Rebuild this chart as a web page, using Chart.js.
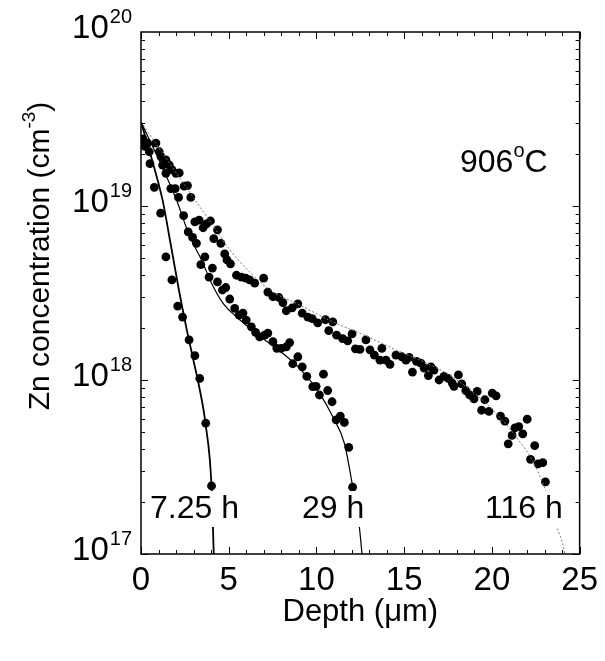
<!DOCTYPE html>
<html>
<head>
<meta charset="utf-8">
<title>Zn diffusion profiles 906°C</title>
<script src="https://cdn.jsdelivr.net/npm/chart.js@4.4.0/dist/chart.umd.min.js"></script>
<style>
  html, body { margin: 0; padding: 0; background: #fff; }
  #wrap { width: 605px; height: 661px; }
</style>
</head>
<body>
<div id="wrap"><canvas id="profileChart" width="605" height="661"></canvas></div>
<script>
// Measured points, 7.25 h
const depth725 = [0.06, 0.23, 0.51, 0.76, 1.12, 1.42, 1.76, 2.09, 2.37, 2.74, 3.07, 3.35, 3.69, 4.02];
const conc725 = [2.35e19, 2.2e19, 1.75e19, 1.28e19, 9.1e18, 5.1e18, 3.76e18, 2.66e18, 2.3e18, 1.7e18, 1.38e18, 1.02e18, 5.65e17, 2.46e17];

// Measured points, 29 h
const depth29 = [0.1, 0.38, 0.47, 1.14, 1.42, 1.70, 1.95, 2.14, 2.43, 2.69, 2.94, 3.16, 3.41, 3.64, 3.88, 4.07, 4.36,
  4.64, 4.83, 5.06, 5.34, 5.59, 5.81, 6.00, 6.29, 6.53, 6.76, 7.05, 7.23, 7.52, 7.74, 7.99, 8.28,
  8.47, 8.65, 8.94, 9.19, 9.45, 9.79, 9.98, 10.17, 10.40, 10.64, 10.89, 11.12, 11.36, 11.59, 11.84, 12.06];
const conc29 = [2.4e19, 2.3e19, 2.05e19, 1.92e19, 1.54e19, 1.26e19, 1.26e19, 1.12e19, 8.8e18, 7.1e18, 6.6e18, 6.1e18, 4.6e18, 5.1e18, 3.9e18, 4.4e18, 3.66e18,
  3.29e18, 3.4e18, 2.92e18, 2.58e18, 2.36e18, 2.42e18, 2.21e18, 2.02e18, 1.88e18, 1.77e18, 1.81e18, 1.86e18, 1.66e18, 1.52e18, 1.52e18, 1.55e18,
  1.64e18, 1.24e18, 1.36e18, 1.19e18, 1.05e18, 9.15e17, 9.2e17, 8.2e17, 1.08e18, 8.7e17, 7.5e17, 5.9e17, 6.2e17, 5.7e17, 4.1e17, 2.42e17];

// Measured points, 116 h
const depth116 = [0.11, 0.25, 0.85, 1.04, 1.23, 1.42, 1.61, 1.76, 1.99, 2.18,
  2.46, 2.65, 2.84, 3.07, 3.31, 3.54, 3.73, 3.96, 4.15, 4.36,
  4.55, 4.77, 4.90, 5.10, 5.44, 5.72, 5.97, 6.19, 6.48, 6.99,
  7.23, 7.52, 7.86, 8.09, 8.28, 8.62, 8.94, 9.19, 9.51, 9.76,
  10.07, 10.51, 10.70, 10.93, 11.15, 11.49, 11.78, 12.03, 12.22, 12.48,
  12.82, 13.05, 13.30, 13.62, 13.73, 13.96, 14.19, 14.53, 14.87, 15.10,
  15.28, 15.47, 15.70, 15.95, 16.14, 16.38, 16.52, 16.70, 16.99, 17.27,
  17.52, 17.74, 17.84, 18.09, 18.28, 18.51, 18.73, 18.98, 19.16, 19.41,
  19.60, 19.83, 20.02, 20.24, 20.49, 20.74, 20.93, 21.15, 21.31, 21.53,
  21.76, 22.01, 22.20, 22.44, 22.63, 22.90, 23.05];
const conc116 = [2.43e19, 2.25e19, 2.3e19, 2.05e19, 1.72e19, 1.84e19, 1.72e19, 1.62e19, 1.54e19, 1.55e19,
  1.30e19, 1.31e19, 1.12e19, 8.1e18, 8.3e18, 7.5e18, 7.9e18, 8.2e18, 6.5e18, 7.3e18,
  6.1e18, 5.3e18, 4.9e18, 4.65e18, 4.0e18, 3.9e18, 3.85e18, 3.76e18, 3.6e18, 3.85e18,
  3.2e18, 3.01e18, 2.98e18, 2.78e18, 2.5e18, 2.6e18, 2.74e18, 2.42e18, 2.3e18, 2.25e18,
  2.13e18, 2.22e18, 1.92e18, 2.16e18, 1.81e18, 1.73e18, 1.68e18, 1.84e18, 1.51e18, 1.5e18,
  1.70e18, 1.49e18, 1.39e18, 1.30e18, 1.52e18, 1.30e18, 1.23e18, 1.39e18, 1.36e18, 1.30e18,
  1.35e18, 1.11e18, 1.28e18, 1.25e18, 1.17e18, 1.06e18, 1.19e18, 1.14e18, 1.0e18, 1.05e18,
  1.02e18, 9.6e17, 9.2e17, 1.07e18, 9.5e17, 8.7e17, 8.2e17, 7.8e17, 8.6e17, 6.7e17,
  7.7e17, 6.6e17, 8.4e17, 8.1e17, 6.2e17, 5.8e17, 4.3e17, 4.8e17, 5.3e17, 5.4e17,
  4.9e17, 5.95e17, 3.5e17, 4.2e17, 3.3e17, 3.35e17, 2.6e17];

// Fitted curves
const fit725X = [0, 0.63, 1.23, 1.70, 2.16, 2.61, 3.01, 3.35, 3.69, 4.02, 4.16];
const fit725Y = [3.04e19, 1.84e19, 1.08e19, 5.97e18, 3.29e18, 1.94e18, 1.27e18, 8.8e17, 5.5e17, 2.46e17, 9e16];
const fit29X = [0, 1.08, 2.03, 2.78, 3.45, 4.02, 4.68, 5.44, 6.57, 7.33, 8.09, 9.13, 10.17, 10.93, 11.59, 12.03, 12.44, 12.64];
const fit29Y = [3.04e19, 1.79e19, 1.08e19, 6.67e18, 4.9e18, 3.6e18, 2.76e18, 2.31e18, 1.85e18, 1.62e18, 1.42e18, 1.14e18, 8.4e17, 6.15e17, 4.33e17, 2.55e17, 1.44e17, 9e16];
const fit116X = [0, 1.93, 3.88, 5.06, 6.19, 7.33, 9.03, 10.93, 12.73, 14.53, 16.14, 17.56, 19.45, 20.78, 21.53, 22.29, 23.05, 23.65, 24.15, 24.2];
const fit116Y = [3.04e19, 1.59e19, 8.3e18, 5.6e18, 4.18e18, 3.3e18, 2.7e18, 2.16e18, 1.81e18, 1.49e18, 1.27e18, 1.07e18, 7.7e17, 5.6e17, 4.5e17, 3.47e17, 2.33e17, 1.47e17, 1e17, 9e16];

// Axis ticks and labels
const xTicks = [0, 5, 10, 15, 20, 25];
const yDecades = [17, 18, 19, 20];
const timeLabels = ['7.25 h', '29 h', '116 h'];
const timeLabelX = [150, 302, 485];

const FONT = '"Liberation Sans", Arial, Helvetica, sans-serif';

function toPoints(xs, ys) {
  return xs.map((x, i) => ({ x: x, y: ys[i] }));
}

function lineSet(xs, ys, width, color, dash) {
  return {
    data: toPoints(xs, ys),
    showLine: true,
    borderColor: color,
    borderWidth: width,
    borderDash: dash,
    pointRadius: 0,
    cubicInterpolationMode: 'monotone',
    fill: false
  };
}

function dotSet(xs, ys) {
  return {
    data: toPoints(xs, ys),
    showLine: false,
    pointRadius: 4.4,
    pointBackgroundColor: '#000',
    pointBorderColor: '#000',
    pointBorderWidth: 0
  };
}

// Draw "10" with a raised exponent, right aligned
function drawPower(ctx, exp, xRight, baseline) {
  ctx.font = '20px ' + FONT;
  const wSup = ctx.measureText(exp).width;
  ctx.font = '33px ' + FONT;
  const wBase = ctx.measureText('10').width;
  const x0 = xRight - wSup - wBase - 1;
  ctx.fillText('10', x0, baseline);
  ctx.font = '20px ' + FONT;
  ctx.fillText(exp, x0 + wBase + 1, baseline - 15);
}

// Frame, inward ticks, custom labels
const framePlugin = {
  id: 'frame',
  afterDatasetsDraw(chart) {
    const ctx = chart.ctx;
    ctx.save();
    ctx.font = '32px ' + FONT;
    ctx.textBaseline = 'alphabetic';
    ctx.textAlign = 'left';
    timeLabels.forEach((t, i) => {
      const w = ctx.measureText(t).width;
      ctx.fillStyle = '#fff';
      ctx.fillRect(timeLabelX[i] - 2, 491, w + 4, 36);
      ctx.fillStyle = '#000';
      ctx.fillText(t, timeLabelX[i], 518);
    });

    // temperature label
    ctx.fillText('906', 460, 172);
    let w = ctx.measureText('906').width;
    ctx.font = '20px ' + FONT;
    ctx.fillText('o', 460 + w, 157);
    const wo = ctx.measureText('o').width;
    ctx.font = '32px ' + FONT;
    ctx.fillText('C', 460 + w + wo, 172);
    ctx.restore();
  },
  afterDraw(chart) {
    const ctx = chart.ctx;
    const a = chart.chartArea;
    const xs = chart.scales.x;
    const ys = chart.scales.y;
    ctx.save();
    ctx.strokeStyle = '#000';
    ctx.lineWidth = 1.5;
    ctx.strokeRect(a.left, a.top, a.right - a.left, a.bottom - a.top);

    ctx.lineWidth = 1;
    ctx.beginPath();
    for (let v = 0; v <= 25; v++) {
      const px = Math.round(xs.getPixelForValue(v)) + 0.5;
      const len = v % 5 === 0 ? 7 : 4;
      ctx.moveTo(px, a.bottom); ctx.lineTo(px, a.bottom - len);
      ctx.moveTo(px, a.top); ctx.lineTo(px, a.top + len);
    }
    for (let d = 17; d < 20; d++) {
      for (let m = 1; m <= 9; m++) {
        const py = Math.round(ys.getPixelForValue(m * Math.pow(10, d))) + 0.5;
        const len = m === 1 ? 7 : 4;
        ctx.moveTo(a.left, py); ctx.lineTo(a.left + len, py);
        ctx.moveTo(a.right, py); ctx.lineTo(a.right - len, py);
      }
    }
    ctx.stroke();

    // y tick labels
    ctx.fillStyle = '#000';
    ctx.textAlign = 'left';
    ctx.textBaseline = 'alphabetic';
    yDecades.forEach(d => {
      const py = ys.getPixelForValue(Math.pow(10, d));
      drawPower(ctx, String(d), 132, py + 6);
    });

    // y axis title
    ctx.translate(49, 256);
    ctx.rotate(-Math.PI / 2);
    const main = 'Zn concentration (cm';
    ctx.font = '30px ' + FONT;
    const w1 = ctx.measureText(main).width;
    const w3 = ctx.measureText(')').width;
    ctx.font = '19px ' + FONT;
    const w2 = ctx.measureText('-3').width;
    const x0 = -(w1 + w2 + w3) / 2;
    ctx.font = '30px ' + FONT;
    ctx.fillText(main, x0, 0);
    ctx.fillText(')', x0 + w1 + w2, 0);
    ctx.font = '19px ' + FONT;
    ctx.fillText('-3', x0 + w1, -14);
    ctx.restore();
  }
};

const chart = new Chart(document.getElementById('profileChart').getContext('2d'), {
  type: 'scatter',
  data: {
    datasets: [
      lineSet(fit725X, fit725Y, 1.8, '#000', []),
      lineSet(fit29X, fit29Y, 1.2, '#000', []),
      lineSet(fit116X, fit116Y, 1, '#777', [2, 2]),
      dotSet(depth725, conc725),
      dotSet(depth29, conc29),
      dotSet(depth116, conc116)
    ]
  },
  options: {
    responsive: false,
    animation: false,
    layout: { padding: { top: 32, right: 24, left: 0, bottom: 0 } },
    plugins: { legend: { display: false }, tooltip: { enabled: false } },
    scales: {
      x: {
        type: 'linear',
        min: 0,
        max: 25,
        afterBuildTicks: scale => { scale.ticks = xTicks.map(v => ({ value: v })); },
        afterFit: scale => { scale.height = 107; },
        grid: { display: false, drawTicks: false },
        border: { display: false },
        ticks: { color: '#000', padding: 7, maxRotation: 0, font: { family: FONT, size: 33 } },
        title: {
          display: true,
          text: 'Depth (\u03bcm)',
          color: '#000',
          font: { family: FONT, size: 31 },
          padding: { top: 0, bottom: 30 }
        }
      },
      y: {
        type: 'logarithmic',
        min: 1e17,
        max: 1e20,
        afterFit: scale => { scale.width = 141; },
        grid: { display: false, drawTicks: false },
        border: { display: false },
        ticks: { display: false }
      }
    }
  },
  plugins: [framePlugin]
});
</script>
</body>
</html>
